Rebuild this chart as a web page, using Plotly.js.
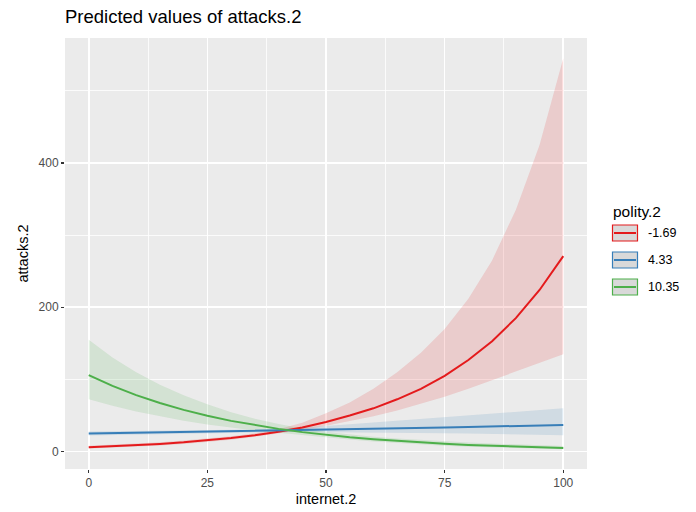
<!DOCTYPE html>
<html>
<head>
<meta charset="utf-8">
<script src="https://cdn.plot.ly/plotly-3.0.1.min.js"></script>
<style>
html,body{margin:0;padding:0;background:#fff;}
#chart{width:696px;height:512px;}
</style>
</head>
<body>
<div id="chart"></div>
<script>
// internet.2 values
const internet = [0,5,10,15,20,25,30,35,40,45,50,55,60,65,70,75,80,85,90,95,100];

// polity.2 = -1.69
const redFit   = [6,7.3,8.8,10.6,12.8,15.5,18.8,22.7,27.5,33.4,41,50,60,72.5,87,105,127,153,185,224,271];
const redLow   = [4.4,5.6,6.9,8.6,10.7,13.3,16.5,20.5,25,30,36,42,49,57,66,76,87,99,111,123,135];
const redHigh  = [8.1,9.6,11.2,13.1,15.3,18.0,21.4,25.6,31,40,53,68,87,110,137,170,212,265,335,425,545];

// polity.2 = 4.33
const blueFit  = [25,25.5,26,26.5,27,27.5,28.2,28.7,29.2,29.8,30.4,31,31.6,32.2,32.8,33.5,34.1,34.8,35.5,36.2,36.9];
const blueLow  = [22.4,23.1,23.8,24.5,25.2,25.9,26.6,26.9,27.1,27.1,27.0,26.8,26.6,26.3,26.0,25.6,25.1,24.6,24.0,23.4,22.8];
const blueHigh = [27.9,28.2,28.4,28.7,29.0,29.2,29.9,30.8,31.8,33.5,35.6,38.0,40.4,42.8,45.2,47.6,50.0,52.5,55.0,57.5,60.0];

// polity.2 = 10.35
const greenFit  = [106,91,78.3,67.3,57.8,49.6,42.6,36.6,31.5,27,23.2,19.9,17.1,14.7,12.6,10.8,9.3,8.0,6.9,5.9,5.0];
const greenLow  = [72.5,63.5,55.7,48.9,42.8,37.5,33.2,29.4,26.1,22.8,19.8,16.8,14.1,11.8,9.8,8.2,6.8,5.7,4.8,4.0,3.3];
const greenHigh = [155,130.4,110,92.7,78,65.6,54.7,45.6,38.1,32,27.2,23.6,20.7,18.3,16.2,14.3,12.7,11.2,10.0,8.8,7.7];

const groupLabels = ["-1.69","4.33","10.35"];
const xTicks = [0,25,50,75,100];
const xMinor = [12.5,37.5,62.5,87.5];
const yTicks = [0,200,400];
const yMinor = [100,300,500];

const colors = ["#E41A1C","#377EB8","#4DAF4A"];
const fills = ["rgba(228,26,28,0.15)","rgba(55,126,184,0.15)","rgba(77,175,74,0.15)"];
const series = [
  {fit: redFit, low: redLow, high: redHigh},
  {fit: blueFit, low: blueLow, high: blueHigh},
  {fit: greenFit, low: greenLow, high: greenHigh}
];

const traces = [];
series.forEach((s, i) => {
  traces.push({x: internet, y: s.low, type: 'scatter', mode: 'lines',
    line: {width: 0, color: fills[i]}, showlegend: false, hoverinfo: 'skip'});
  traces.push({x: internet, y: s.high, type: 'scatter', mode: 'lines', fill: 'tonexty',
    fillcolor: fills[i], line: {width: 0, color: fills[i]}, showlegend: false, hoverinfo: 'skip'});
});
series.forEach((s, i) => {
  traces.push({x: internet, y: s.fit, type: 'scatter', mode: 'lines',
    line: {width: 2, color: colors[i]}, name: groupLabels[i], showlegend: false});
});

// manual ggplot-style legend (paper coords)
const L = 65, R = 587, T = 38, B = 469;
const px = v => (v - L) / (R - L);
const py = v => (B - v) / (B - T);
const shapes = [];
const annotations = [];
annotations.push({xref: 'paper', yref: 'paper', x: px(611), y: py(211), xanchor: 'left', yanchor: 'middle',
  text: 'polity.2', showarrow: false, font: {family: 'Liberation Sans, Arial, sans-serif', size: 15.5, color: '#000'}});
groupLabels.forEach((lab, i) => {
  const top = 225 + i * 27, bot = top + 16;
  shapes.push({type: 'rect', xref: 'paper', yref: 'paper', x0: px(612.5), x1: px(637.5), y0: py(bot), y1: py(top),
    fillcolor: '#D9D9D9', line: {color: colors[i], width: 1.2}});
  shapes.push({type: 'line', xref: 'paper', yref: 'paper', x0: px(614), x1: px(636), y0: py((top + bot) / 2), y1: py((top + bot) / 2),
    line: {color: colors[i], width: 2}});
  annotations.push({xref: 'paper', yref: 'paper', x: px(646), y: py((top + bot) / 2), xanchor: 'left', yanchor: 'middle',
    text: lab, showarrow: false, font: {family: 'Liberation Sans, Arial, sans-serif', size: 12.5, color: '#000'}});
});

const layout = {
  width: 696, height: 512,
  margin: {l: L, r: 696 - R, t: T, b: 512 - B, pad: 0},
  paper_bgcolor: '#FFFFFF',
  plot_bgcolor: '#EBEBEB',
  font: {family: 'Liberation Sans, Arial, sans-serif', color: '#000'},
  title: {text: 'Predicted values of attacks.2', x: L / 696, xanchor: 'left', xref: 'container',
    y: 1 - 17 / 512, yanchor: 'middle', yref: 'container',
    font: {size: 18.5, color: '#000', family: 'Liberation Sans, Arial, sans-serif'}},
  xaxis: {
    range: [-5, 105], tickmode: 'array', tickvals: xTicks, ticktext: xTicks.map(String),
    showgrid: true, gridcolor: '#FFFFFF', gridwidth: 1.6, zeroline: false, showline: false,
    ticks: 'outside', ticklen: 3, tickwidth: 1.2, tickcolor: '#333333',
    tickfont: {size: 12, color: '#4D4D4D'},
    minor: {tickmode: 'array', tickvals: xMinor, showgrid: true, gridcolor: '#FFFFFF', gridwidth: 0.8, ticks: ''},
    title: {text: 'internet.2', font: {size: 14.5, color: '#000'}, standoff: 4},
    fixedrange: true
  },
  yaxis: {
    range: [-24.1, 573.2], tickmode: 'array', tickvals: yTicks, ticktext: yTicks.map(String),
    showgrid: true, gridcolor: '#FFFFFF', gridwidth: 1.6, zeroline: false, showline: false,
    ticks: 'outside', ticklen: 3, tickwidth: 1.2, tickcolor: '#333333',
    tickfont: {size: 12, color: '#4D4D4D'},
    minor: {tickmode: 'array', tickvals: yMinor, showgrid: true, gridcolor: '#FFFFFF', gridwidth: 0.8, ticks: ''},
    title: {text: 'attacks.2', font: {size: 14.5, color: '#000'}, standoff: 6},
    fixedrange: true
  },
  showlegend: false,
  shapes: shapes,
  annotations: annotations
};

Plotly.newPlot('chart', traces, layout, {displayModeBar: false, staticPlot: true});
</script>
</body>
</html>
